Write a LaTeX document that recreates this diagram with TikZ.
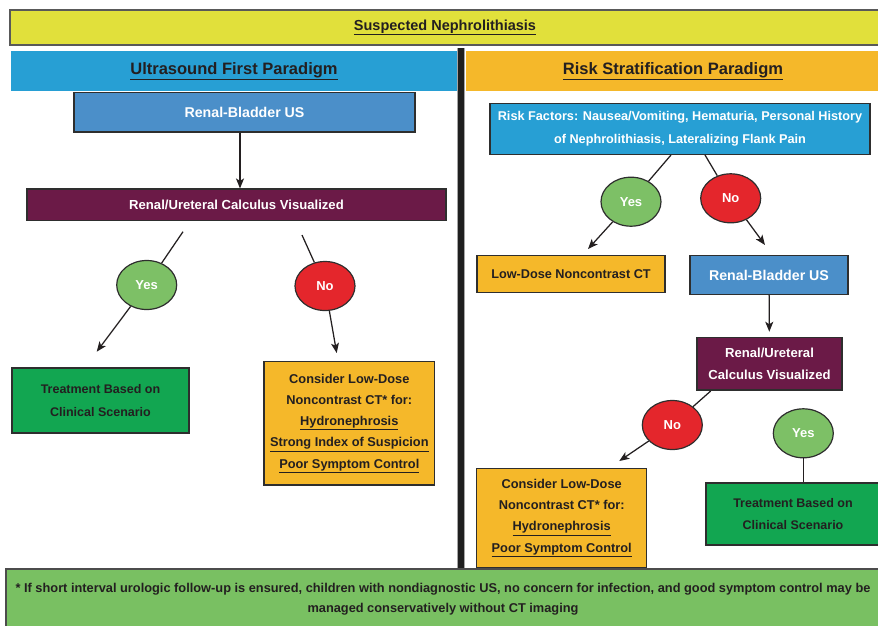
\documentclass[tikz,border=0pt]{standalone}
\usepackage{fontspec}
\setmainfont{Liberation Sans}
\usepackage{tikz}
\usetikzlibrary{shapes.geometric,arrows.meta,calc}
\usepackage{xcolor}
\definecolor{bannerylw}{HTML}{E1E03B}
\definecolor{headblue}{HTML}{279FD4}
\definecolor{headorange}{HTML}{F5B82A}
\definecolor{usblue}{HTML}{4B8FC9}
\definecolor{calcpurple}{HTML}{6B1A47}
\definecolor{yesgreen}{HTML}{7DC066}
\definecolor{nored}{HTML}{E4262C}
\definecolor{treatgreen}{HTML}{12A651}
\definecolor{notegreen}{HTML}{79C062}
\definecolor{inkdark}{HTML}{231F20}
\definecolor{edgegray}{HTML}{2E2E2E}

\begin{document}
\begin{tikzpicture}[x=1pt,y=-1pt,
    box/.style={draw=edgegray, line width=1.2pt, rectangle, inner sep=0pt, align=center,
                font=\fontsize{12.7}{22}\selectfont\bfseries, text=inkdark},
    head/.style={rectangle, inner sep=0pt, align=center,
                 font=\fontsize{16.5}{20}\selectfont\bfseries, text=inkdark},
    answer/.style={ellipse, draw=edgegray, line width=1.2pt, minimum width=60, minimum height=49,
                   inner sep=0pt, text=white, font=\fontsize{13}{15}\selectfont\bfseries},
    link/.style={draw=inkdark, line width=1.25pt},
    arrow/.style={link, -{Stealth[length=10pt,width=8pt,inset=2.5pt]}}]
    \useasboundingbox (0,0) rectangle (878,625);

    % --- Banner and headers ---
    \node[box, fill=bannerylw, draw=black!65, line width=2pt, minimum width=870, minimum height=35,
          font=\fontsize{14.5}{18}\selectfont\bfseries] (title) at (445,27.5) {\underline{Suspected Nephrolithiasis}};
    \node[head, fill=headblue, minimum width=446, minimum height=40] (lhead) at (234,71) {\underline{Ultrasound First Paradigm}};
    \node[head, fill=headorange, minimum width=414, minimum height=40] (rhead) at (673,71) {\underline{Risk Stratification Paradigm}};
    % divider
    \fill[black!88] (458,48) rectangle (464,569);
    \draw[black!35, line width=0.5pt] (457.7,48) -- (457.7,569) (464.3,48) -- (464.3,569);

    % --- Left: ultrasound first ---
    \node[box, fill=usblue, text=white, minimum width=341, minimum height=39.5,
          font=\fontsize{14.2}{18}\selectfont\bfseries] (lus) at (244.5,112.3) {Renal-Bladder US};
    \node[box, fill=calcpurple, text=white, minimum width=419, minimum height=31.5,
          font=\fontsize{13.1}{16}\selectfont\bfseries] (lcalc) at (236.5,204.8) {Renal/Ureteral Calculus Visualized};
    \node[answer, fill=yesgreen] (lyes) at (146.7,285) {Yes};
    \node[answer, fill=nored] (lno) at (325,286) {No};
    \node[box, fill=treatgreen, minimum width=177, minimum height=65,
          font=\fontsize{12.5}{22.5}\selectfont\bfseries] (ltreat) at (100.5,400.5)
        {Treatment Based on\\Clinical Scenario};
    \node[box, fill=headorange, minimum width=170.5, minimum height=123.3, font=\fontsize{12.8}{21.3}\selectfont\bfseries] (lct) at (349.3,423.3)
        {Consider Low-Dose\\Noncontrast CT* for:\\\underline{Hydronephrosis}\\\underline{Strong Index of Suspicion}\\\underline{Poor Symptom Control}};

    \draw[arrow] ([xshift=-4.5]lus.south) -- ([xshift=-4.5]lus.south |- lcalc.north);
    \coordinate (lyes-in) at (183,231.7);
    \coordinate (lyes-out) at (96.7,351.7);
    \coordinate (lno-in) at (302,235);
    \coordinate (lno-out) at (336.7,353);
    \draw[link] (lyes-in) -- (lyes);
    \draw[arrow] (lyes) -- (lyes-out);
    \draw[link] (lno-in) -- (lno);
    \draw[arrow] (lno) -- (lno-out);

    % --- Right: risk stratification ---
    \node[box, fill=headblue, text=white, minimum width=380, minimum height=51,
          font=\fontsize{12.7}{22.3}\selectfont\bfseries] (rrisk) at (680,128.8)
        {Risk Factors: Nausea/Vomiting, Hematuria, Personal History\\of Nephrolithiasis, Lateralizing Flank Pain};
    \node[answer, fill=yesgreen] (ryes) at (631,201.7) {Yes};
    \node[answer, fill=nored] (rno) at (730.7,198.3) {No};
    \node[box, fill=headorange, minimum width=188, minimum height=36.6] (rlow) at (571,274) {Low-Dose Noncontrast CT};
    \node[box, fill=usblue, text=white, minimum width=158, minimum height=38.6,
          font=\fontsize{14.2}{18}\selectfont\bfseries] (rus) at (769,275) {Renal-Bladder US};
    \node[box, fill=calcpurple, text=white, minimum width=145, minimum height=52.7,
          font=\fontsize{13.1}{21.7}\selectfont\bfseries] (rcalc) at (769.5,363.7)
        {Renal/Ureteral\\Calculus Visualized};
    \node[answer, fill=nored] (rno2) at (672.3,425) {No};
    \node[answer, fill=yesgreen] (ryes2) at (803.3,433.3) {Yes};
    \node[box, fill=headorange, minimum width=170, minimum height=99, font=\fontsize{12.8}{21.3}\selectfont\bfseries] (rct) at (561.7,517.8)
        {Consider Low-Dose\\Noncontrast CT* for:\\\underline{Hydronephrosis}\\\underline{Poor Symptom Control}};
    \node[box, fill=treatgreen, minimum width=174, minimum height=62,
          font=\fontsize{12.5}{22}\selectfont\bfseries] (rtreat) at (793,514)
        {Treatment Based on\\Clinical Scenario};

    \coordinate (ryes-in) at (671,155);
    \coordinate (ryes-out) at (588,249);
    \coordinate (rno-in) at (705,155);
    \coordinate (rno-out) at (765,245);
    \coordinate (rno2-in) at (710.7,391);
    \coordinate (rno2-out) at (619.3,461);
    \draw[link] (ryes-in) -- (ryes);
    \draw[arrow] (ryes) -- (ryes-out);
    \draw[link] (rno-in) -- (rno);
    \draw[arrow] (rno) -- (rno-out);
    \draw[arrow, shorten >=5pt] (rus) -- (rcalc);
    \draw[link] (rno2-in) -- (rno2);
    \draw[arrow] (rno2) -- (rno2-out);
    \draw[link] (ryes2) -- (ryes2 |- rtreat.north);

    % --- Footnote ---
    \node[box, fill=notegreen, draw=black!70, line width=1.5pt, minimum width=874, minimum height=60,
          font=\fontsize{12.8}{20.5}\selectfont\bfseries] (note) at (443,599)
        {* If short interval urologic follow-up is ensured, children with nondiagnostic US, no concern for infection, and good symptom control may be\\managed conservatively without CT imaging};
\end{tikzpicture}
\end{document}
